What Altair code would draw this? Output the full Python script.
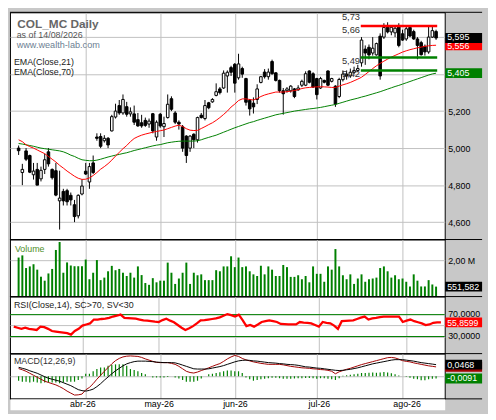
import json
import altair as alt
import pandas as pd

# ---------------- data ----------------
opens = [5.000,4.868,4.985,4.960,4.856,4.885,4.834,4.885,4.980,4.885,
4.878,4.715,4.766,4.770,4.745,4.694,4.634,4.752,4.875,4.817,
4.920,5.060,5.063,5.040,5.053,5.093,5.168,5.230,5.190,5.224,
5.185,5.185,5.154,5.137,5.150,5.130,5.186,5.060,5.183,5.116,
5.165,5.267,5.190,5.140,5.115,5.065,5.000,5.075,5.045,5.178,
5.160,5.245,5.250,5.285,5.320,5.325,5.390,5.435,5.453,5.380,
5.430,5.376,5.258,5.243,5.263,5.355,5.411,5.386,5.468,5.407,
5.366,5.310,5.310,5.310,5.320,5.315,5.340,5.340,5.417,5.402,
5.376,5.325,5.366,5.417,5.361,5.335,5.279,5.370,5.400,5.390,
5.410,5.420,5.461,5.535,5.545,5.514,5.504,5.605,5.600,5.657,
5.628,5.623,5.657,5.618,5.590,5.652,5.630,5.590,5.570,5.550,
5.520,5.600,5.630]
highs = [5.014,4.915,5.000,4.965,4.920,4.920,4.900,4.970,5.000,4.890,
4.920,4.878,4.780,4.780,4.760,4.720,4.750,4.830,4.920,4.920,
4.960,5.080,5.080,5.070,5.060,5.180,5.240,5.260,5.290,5.250,
5.220,5.230,5.190,5.180,5.165,5.160,5.190,5.150,5.190,5.170,
5.290,5.280,5.200,5.150,5.125,5.070,5.070,5.080,5.170,5.190,
5.260,5.250,5.270,5.350,5.330,5.420,5.420,5.445,5.460,5.510,
5.440,5.380,5.265,5.274,5.345,5.390,5.427,5.430,5.478,5.410,
5.370,5.325,5.330,5.340,5.325,5.340,5.370,5.415,5.420,5.410,
5.380,5.385,5.370,5.420,5.380,5.340,5.380,5.420,5.420,5.430,
5.440,5.450,5.600,5.555,5.560,5.600,5.570,5.620,5.675,5.680,
5.665,5.655,5.675,5.640,5.665,5.660,5.640,5.600,5.580,5.560,
5.660,5.660,5.640]
lows = [4.963,4.800,4.930,4.865,4.830,4.800,4.820,4.860,4.900,4.830,
4.740,4.560,4.690,4.690,4.690,4.600,4.620,4.745,4.855,4.780,
4.860,5.040,5.000,5.030,5.000,5.090,5.160,5.180,5.180,5.170,
5.170,5.125,5.115,5.110,5.115,5.110,5.080,5.040,5.110,5.060,
5.160,5.200,5.130,5.100,4.980,4.920,4.980,5.000,5.030,5.160,
5.150,5.210,5.245,5.280,5.290,5.320,5.300,5.390,5.300,5.370,
5.380,5.230,5.176,5.187,5.238,5.350,5.376,5.370,5.397,5.360,
5.300,5.181,5.300,5.300,5.270,5.310,5.330,5.335,5.350,5.325,
5.263,5.320,5.350,5.335,5.355,5.223,5.270,5.360,5.370,5.380,
5.400,5.410,5.440,5.450,5.480,5.500,5.500,5.370,5.590,5.620,
5.610,5.600,5.545,5.580,5.580,5.600,5.585,5.480,5.500,5.500,
5.510,5.595,5.585]
closes = [4.986,4.885,4.940,4.870,4.876,4.800,4.880,4.937,4.915,4.840,
4.746,4.730,4.715,4.710,4.720,4.630,4.745,4.795,4.860,4.900,
4.868,5.053,5.010,5.053,5.017,5.170,5.200,5.190,5.263,5.183,
5.196,5.140,5.120,5.120,5.123,5.146,5.093,5.140,5.120,5.133,
5.237,5.210,5.140,5.130,5.000,4.960,5.065,5.045,5.165,5.165,
5.230,5.218,5.263,5.305,5.300,5.405,5.410,5.410,5.351,5.455,
5.400,5.248,5.212,5.223,5.320,5.386,5.386,5.411,5.402,5.366,
5.310,5.294,5.320,5.335,5.279,5.325,5.361,5.402,5.356,5.330,
5.289,5.376,5.356,5.340,5.376,5.238,5.371,5.400,5.390,5.410,
5.420,5.430,5.584,5.514,5.504,5.540,5.565,5.390,5.652,5.628,
5.653,5.648,5.555,5.584,5.645,5.606,5.590,5.555,5.505,5.520,
5.600,5.635,5.595]
ema21 = [5.045,5.035,5.018,5.008,5.000,4.990,4.980,4.970,4.955,4.940,
4.925,4.907,4.892,4.876,4.862,4.848,4.837,4.831,4.832,4.839,
4.852,4.868,4.886,4.900,4.916,4.935,4.957,4.977,4.997,5.014,
5.035,5.052,5.062,5.070,5.076,5.081,5.086,5.090,5.094,5.098,
5.105,5.112,5.119,5.124,5.117,5.105,5.097,5.095,5.096,5.106,
5.116,5.127,5.137,5.150,5.165,5.182,5.200,5.222,5.238,5.257,
5.266,5.266,5.263,5.260,5.268,5.279,5.287,5.293,5.298,5.303,
5.303,5.303,5.305,5.308,5.311,5.316,5.322,5.326,5.328,5.330,
5.331,5.332,5.331,5.330,5.328,5.328,5.335,5.342,5.348,5.355,
5.364,5.373,5.383,5.398,5.414,5.430,5.445,5.458,5.470,5.481,
5.492,5.501,5.510,5.519,5.526,5.532,5.537,5.542,5.546,5.550,
5.553,5.555,5.556]
ema70 = [5.025,5.022,5.018,5.014,5.010,5.005,5.000,4.997,4.994,4.991,
4.988,4.985,4.980,4.972,4.962,4.955,4.945,4.937,4.934,4.932,
4.932,4.935,4.940,4.946,4.952,4.957,4.962,4.966,4.971,4.975,
4.981,4.987,4.992,4.997,5.002,5.007,5.012,5.016,5.019,5.024,
5.029,5.032,5.035,5.037,5.038,5.038,5.038,5.038,5.040,5.045,
5.052,5.058,5.064,5.070,5.078,5.086,5.094,5.102,5.110,5.117,
5.124,5.131,5.138,5.143,5.150,5.156,5.162,5.168,5.174,5.180,
5.184,5.188,5.192,5.196,5.200,5.203,5.206,5.209,5.212,5.214,
5.217,5.220,5.224,5.228,5.232,5.236,5.242,5.248,5.254,5.260,
5.265,5.270,5.276,5.281,5.287,5.293,5.299,5.305,5.312,5.319,
5.326,5.333,5.339,5.346,5.353,5.360,5.367,5.374,5.381,5.388,
5.395,5.401,5.405]
volume_m = [2.16,2.28,1.58,1.67,1.79,1.49,1.10,0.88,1.28,1.53,
2.58,3.02,1.32,1.89,1.72,1.68,1.68,1.68,2.05,0.96,
1.32,2.02,0.91,1.05,1.40,1.70,1.46,1.53,1.32,1.14,
1.32,1.05,1.67,1.19,0.75,0.65,1.02,0.79,0.88,0.88,
1.88,1.32,0.70,1.00,1.32,1.88,0.70,1.32,1.18,1.23,
0.91,0.91,0.91,1.46,1.40,1.67,1.67,2.23,1.63,2.16,
1.63,1.67,1.40,1.23,1.14,1.70,1.23,1.67,1.49,1.14,
1.14,1.75,1.63,1.09,1.09,1.18,0.96,1.14,0.79,1.67,
1.26,1.26,0.82,1.67,1.49,2.63,1.67,1.18,0.96,1.23,
0.70,1.00,1.23,0.82,0.96,1.00,1.05,1.58,1.67,1.40,
1.05,1.18,0.96,1.00,0.82,0.56,1.23,0.88,0.56,0.56,
0.91,0.67,0.551582]
rsi = [48,46,44,46,44,43,42,48,47,44,
40,39,38,37,36,33.5,40,44,50,52,
54,61,61,62,62.5,64,66.5,68,70,64,
63.5,63,62.5,61,59.5,59,58,57,56.5,60,
62.5,59,56,51,46,42,45,49,54,59.5,
60,61,62,63,65,68,71,69,66.5,70,
60,49,51,48,52,56.5,58,59.5,58,56.5,
53,52.5,52,52,52,56.5,55.5,55,54,51,
48,56.5,55,54,50,44,58,58.5,59,59.5,
62,64.5,66.5,61,63,64,65.5,66.5,66.5,66.5,
66.5,66.5,56.5,59,61,58,56,54,51,52,
55,56,55.8599]
macd = [0.031,0.026,0.020,0.012,0.004,-0.004,-0.012,-0.020,-0.025,-0.030,
-0.035,-0.042,-0.050,-0.060,-0.068,-0.076,-0.075,-0.072,-0.055,-0.045,
-0.030,-0.012,0.004,0.020,0.035,0.050,0.063,0.072,0.078,0.081,
0.082,0.081,0.080,0.076,0.070,0.065,0.060,0.056,0.055,0.055,
0.055,0.052,0.048,0.040,0.030,0.020,0.015,0.013,0.017,0.023,
0.028,0.034,0.040,0.046,0.051,0.060,0.070,0.078,0.084,0.080,
0.072,0.066,0.062,0.058,0.055,0.052,0.050,0.048,0.048,0.048,
0.048,0.046,0.043,0.040,0.038,0.036,0.034,0.033,0.032,0.030,
0.029,0.027,0.026,0.024,0.020,0.010,0.018,0.023,0.028,0.032,
0.037,0.042,0.047,0.051,0.055,0.059,0.063,0.067,0.071,0.075,
0.076,0.074,0.069,0.063,0.060,0.058,0.054,0.051,0.048,0.045,
0.042,0.040,0.0377]
signal = [0.036,0.032,0.028,0.022,0.017,0.012,0.005,-0.002,-0.008,-0.012,
-0.016,-0.020,-0.026,-0.032,-0.038,-0.046,-0.054,-0.058,-0.060,-0.057,
-0.052,-0.042,-0.030,-0.016,-0.003,0.010,0.022,0.032,0.042,0.050,
0.055,0.059,0.061,0.061,0.061,0.060,0.059,0.057,0.056,0.055,
0.055,0.055,0.054,0.050,0.045,0.040,0.035,0.030,0.029,0.029,
0.029,0.030,0.033,0.036,0.039,0.043,0.048,0.053,0.058,0.062,
0.064,0.065,0.064,0.062,0.061,0.059,0.057,0.055,0.054,0.053,
0.051,0.050,0.048,0.047,0.046,0.044,0.041,0.038,0.037,0.035,
0.033,0.032,0.030,0.028,0.026,0.024,0.023,0.024,0.026,0.028,
0.031,0.034,0.038,0.042,0.046,0.050,0.053,0.056,0.059,0.062,
0.065,0.067,0.067,0.067,0.065,0.063,0.061,0.058,0.055,0.053,
0.051,0.049,0.0468]
hist = [-0.018,-0.022,-0.022,-0.025,-0.022,-0.025,-0.028,-0.025,-0.025,-0.025,
-0.025,-0.028,-0.025,-0.022,-0.022,-0.022,-0.015,-0.009,0.010,0.010,
0.020,0.029,0.035,0.035,0.042,0.046,0.048,0.048,0.048,0.042,
0.029,0.025,0.020,0.013,0.008,0.000,-0.005,-0.005,-0.005,-0.005,
-0.003,0.000,-0.005,-0.009,-0.015,-0.022,-0.022,-0.022,-0.018,-0.009,
0.000,0.008,0.010,0.013,0.016,0.020,0.023,0.023,0.020,0.020,
0.013,-0.005,-0.012,-0.018,-0.015,-0.012,-0.010,-0.008,-0.006,-0.006,
-0.008,-0.010,-0.010,-0.010,-0.009,-0.008,-0.008,-0.007,-0.007,-0.008,
-0.010,-0.008,-0.008,-0.010,-0.012,-0.015,-0.008,0.002,0.004,0.006,
0.008,0.010,0.013,0.013,0.014,0.015,0.014,0.015,0.017,0.015,
0.012,0.008,0.003,0.000,-0.002,-0.006,-0.010,-0.012,-0.016,-0.016,
-0.012,-0.010,-0.0091]

month_idx = [19, 39, 59, 81, 104]
month_lbl = ["abr-26", "may-26", "jun-26", "jul-26", "ago-26"]
price_ticks = [4.6, 4.8, 5.0, 5.2, 5.4, 5.6]
price_ticks_hidden = [5.4, 5.6]      # labels covered by the value boxes
levels = [5.66, 5.49, 5.42]
level_colors = ["#ff0000", "#008000", "#008000"]
level_labels = [5.73, 5.66, 5.49, 5.42]
rsi_ticks = [30, 50, 70]
rsi_ticks_hidden = [50]
rsi_bands = [70, 30]

# ---------------- layout ----------------
W, AX = 442, 38
H1, H2, H3, H4, H5 = 231, 58, 58, 46, 11
FONT = "Liberation Sans"
GRID = "#c0c0c0"

n = len(closes)
df = pd.DataFrame({"i": list(range(1, n + 1)), "open": opens, "high": highs,
                   "low": lows, "close": closes, "ema21": ema21, "ema70": ema70,
                   "vol": volume_m, "rsi": rsi, "macd": macd, "signal": signal,
                   "hist": hist})
base = alt.Chart(df)

XS = alt.Scale(domain=[0, 114], nice=False, zero=False)
XAX = alt.Axis(values=month_idx, labels=False, ticks=False, domain=False,
               grid=True, gridColor=GRID, title=None)


def X():
    return alt.X("i:Q", scale=XS, axis=XAX)


def make_y(domain, values, expr, show_labels=True, label_offset=0):
    sc = alt.Scale(domain=domain, nice=False, zero=False)
    ax = alt.Axis(orient="right", values=values, labelExpr=expr, ticks=False,
                  domain=False, grid=True, gridColor=GRID, labelPadding=3,
                  labelFontSize=9, labelColor="black", title=None,
                  labels=show_labels, labelOffset=label_offset)

    def Y(field):
        return alt.Y(f"{field}:Q", scale=sc, axis=ax)
    return Y


def hide_expr(hidden, fmt):
    return f"indexof({json.dumps(hidden)}, datum.value) >= 0 ? '' : {fmt}"


def label(txt, x, y, size=9, color="#222222", weight="normal"):
    return alt.Chart(pd.DataFrame({"t": [txt]})).mark_text(
        align="left", baseline="alphabetic", fontSize=size, color=color,
        fontWeight=weight, font=FONT).encode(text="t:N", x=alt.value(x), y=alt.value(y))


def sep(y):
    return alt.Chart(pd.DataFrame({"k": [0]})).mark_rule(color="black", strokeWidth=1).encode(
        x=alt.value(0), x2=alt.value(W + AX), y=alt.value(y))


def box(Y, v, txt, col, dy=0, with_text=True, size=9):
    bdf = pd.DataFrame({"v": [v], "t": [txt]})
    r = alt.Chart(bdf).mark_rule(strokeWidth=10, color=col).encode(
        x=alt.value(W + 0.5), x2=alt.value(W + AX), y=Y("v"))
    if not with_text:
        return [r]
    t = alt.Chart(bdf).mark_text(align="left", baseline="middle", color="white",
                                 fontSize=size, font=FONT, dy=dy).encode(
        x=alt.value(W + 2.5), y=Y("v"), text="t:N")
    return [r, t]


def dec(v, d):
    return f"{v:.{d}f}".replace(".", ",")


# ---------------- price panel ----------------
Yp = make_y([4.506, 5.734], price_ticks,
            hide_expr(price_ticks_hidden, "replace(format(datum.value, '.3f'), '.', ',')"))
wick = base.mark_rule(color="black", strokeWidth=1).encode(x=X(), y=Yp("low"), y2="high:Q")
body = base.mark_bar(size=2.6, stroke="black", strokeWidth=1).encode(
    x=X(), y=Yp("open"), y2="close:Q",
    fill=alt.condition("datum.close >= datum.open", alt.value("white"), alt.value("black")))
l70 = base.mark_line(color="#008000", strokeWidth=1).encode(x=X(), y=Yp("ema70"))
l21 = base.mark_line(color="#ff0000", strokeWidth=1).encode(x=X(), y=Yp("ema21"))
lvl = alt.Chart(pd.DataFrame({"lv": levels, "c": level_colors})).mark_rule(strokeWidth=2.5).encode(
    x=alt.datum(92.8), x2=alt.datum(113.3), y=Yp("lv"), color=alt.Color("c:N", scale=None))
lvl_txt = alt.Chart(pd.DataFrame({"v": level_labels, "t": [dec(v, 2) for v in level_labels]})).mark_text(
    align="right", baseline="middle", dy=4, fontSize=9.5, color="#333333", font=FONT).encode(
    x=alt.datum(92.6), y=Yp("v"), text="t:N")

p1_layers = [wick, body, l70, l21, lvl, lvl_txt,
             label("COL_MC Daily", 7.5, 16, 12, "#666666", "bold"),
             label("as of 14/08/2026", 6.8, 26.5, 9, "#555555"),
             label("www.wealth-lab.com", 6.8, 36.5, 9.3, "#6d7f93"),
             label("EMA(Close,21)", 4, 54, 9, "#222222"),
             label("EMA(Close,70)", 4, 64, 9, "#222222")]
p1_layers += box(Yp, ema70[-1], dec(ema70[-1], 3), "#008000")
p1_layers += box(Yp, ema21[-1], dec(ema21[-1], 3), "#ff0000", dy=0.8)
p1_layers += box(Yp, closes[-1], dec(closes[-1], 3), "black", dy=-0.8)
p1_layers += [sep(0)]
p1 = alt.layer(*p1_layers).properties(width=W, height=H1)

# ---------------- volume panel ----------------
Yv = make_y([0, 3.158], [2.0], "replace(format(datum.value, '.2f'), '.', ',') + ' M'")
vbars = base.mark_bar(size=2, color="#008000").encode(x=X(), y=Yv("vol"), y2=alt.datum(0))
p2_layers = [vbars, label("Volume", 5, 13, 9, "#4f8f2a")]
p2_layers += box(Yv, volume_m[-1], f"{volume_m[-1] * 1e6:,.0f}", "black")
p2_layers += [sep(0)]
p2 = alt.layer(*p2_layers).properties(width=W, height=H2)

# ---------------- RSI panel ----------------
Yr = make_y([-1.3, 103], rsi_ticks,
            hide_expr(rsi_ticks_hidden, "replace(format(datum.value, '.4f'), '.', ',')"),
            label_offset=-1.2)
bands = alt.Chart(pd.DataFrame({"b": rsi_bands})).mark_rule(color="#008000", strokeWidth=1).encode(y=Yr("b"))
rline = base.mark_line(color="#ff0000", strokeWidth=2.3).encode(x=X(), y=Yr("rsi"))
p3_layers = [bands, rline, label("RSI(Close,14), SC>70, SV<30", 4, 11.5, 9, "#222222")]
p3_layers += box(Yr, rsi[-1], dec(rsi[-1], 4), "#ff0000", dy=1, size=8.8)
p3_layers += [sep(0)]
p3 = alt.layer(*p3_layers).properties(width=W, height=H3)

# ---------------- MACD panel ----------------
Ym = make_y([-0.0913, 0.0913], [0], "''", show_labels=False)
hbars = base.mark_bar(size=1.2, color="#008000").encode(x=X(), y=Ym("hist"), y2=alt.datum(0))
mline = base.mark_line(color="#a00000", strokeWidth=1).encode(x=X(), y=Ym("macd"))
sline = base.mark_line(color="black", strokeWidth=1).encode(x=X(), y=Ym("signal"))
p4_layers = [hbars, mline, sline, label("MACD(12,26,9)", 4, 11, 9, "#333333")]
p4_layers += box(Ym, macd[-1], dec(macd[-1], 4), "#a00000", with_text=False)
p4_layers += box(Ym, signal[-1], dec(signal[-1], 4), "black")
p4_layers += box(Ym, hist[-1], dec(hist[-1], 4), "#008000")
p4_layers += [sep(0), sep(H4)]
p4 = alt.layer(*p4_layers).properties(width=W, height=H4)

# ---------------- month label strip ----------------
lbl_expr = f"{json.dumps(month_lbl)}[indexof({json.dumps(month_idx)}, datum.value)]"
p5 = alt.Chart(pd.DataFrame({"i": month_idx})).mark_point(opacity=0).encode(
    x=alt.X("i:Q", scale=XS, axis=alt.Axis(
        orient="bottom", offset=-H5, values=month_idx, labelExpr=lbl_expr,
        ticks=False, domain=False, grid=False, labelPadding=1, labelFontSize=9,
        labelColor="black", labelBaseline="top", title=None))
).properties(width=W, height=H5, view=alt.ViewBackground(fill="white", stroke="transparent"))

chart = alt.vconcat(p1, p2, p3, p4, p5, spacing=0, bounds="flush").properties(
    background="#c8c8c8", padding=0
).configure(font=FONT).configure_view(stroke="black", strokeWidth=1, fill="white")

chart.save("out.html", embed_options={"renderer": "svg", "actions": False})
